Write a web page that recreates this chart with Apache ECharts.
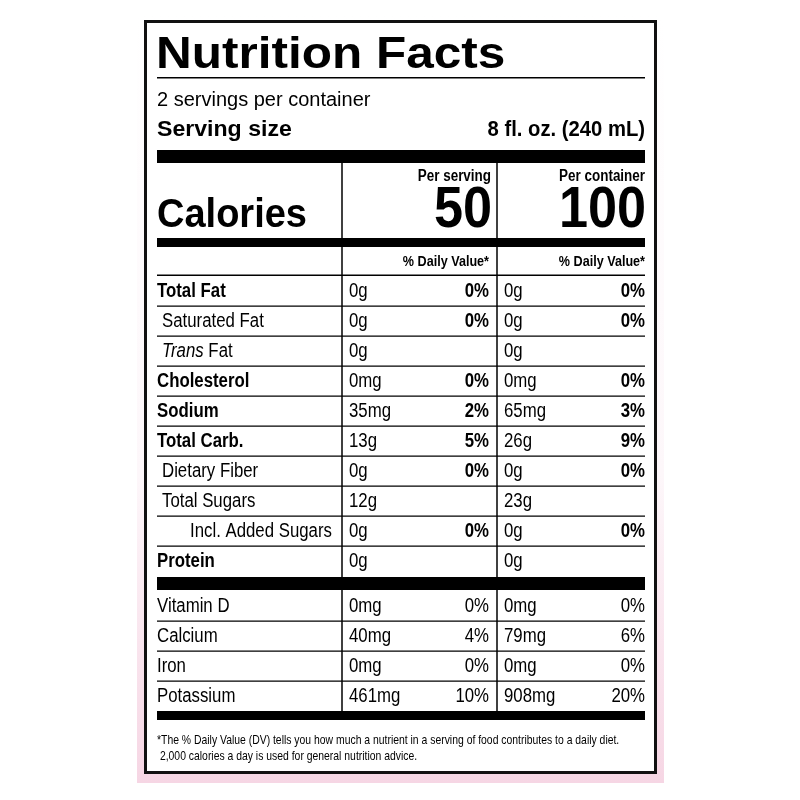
<!DOCTYPE html>
<html>
<head>
<meta charset="utf-8">
<script src="https://cdn.jsdelivr.net/npm/echarts@6/dist/echarts.min.js"></script>
<style>html,body{margin:0;padding:0;background:#fff}#main{width:800px;height:800px}</style>
</head>
<body>
<div id="main"></div>
<script>
// 标签数据
var servingsText = '2 servings per container';
var servingSize = '8 fl. oz. (240 mL)';
var caloriesServing = '50';
var caloriesContainer = '100';
var nutrients = ['Total Fat', 'Saturated Fat', 'Trans Fat', 'Cholesterol', 'Sodium', 'Total Carb.', 'Dietary Fiber', 'Total Sugars', 'Incl. Added Sugars', 'Protein'];
var servingAmt = ['0g', '0g', '0g', '0mg', '35mg', '13g', '0g', '12g', '0g', '0g'];
var servingDV = ['0%', '0%', '', '0%', '2%', '5%', '0%', '', '0%', ''];
var containerAmt = ['0g', '0g', '0g', '0mg', '65mg', '26g', '0g', '23g', '0g', '0g'];
var containerDV = ['0%', '0%', '', '0%', '3%', '9%', '0%', '', '0%', ''];
var vitamins = ['Vitamin D', 'Calcium', 'Iron', 'Potassium'];
var vitServingAmt = ['0mg', '40mg', '0mg', '461mg'];
var vitServingDV = ['0%', '4%', '0%', '10%'];
var vitContainerAmt = ['0mg', '79mg', '0mg', '908mg'];
var vitContainerDV = ['0%', '6%', '0%', '20%'];
var footnote = ['*The % Daily Value (DV) tells you how much a nutrient in a serving of food contributes to a daily diet.',
                ' 2,000 calories a day is used for general nutrition advice.'];

// 缩进样式 (0=粗体, 1=缩进, 2=双缩进)
var indentLevel = [0, 1, 1, 0, 0, 0, 1, 1, 2, 0];

var FONT = '"Liberation Sans", Arial, sans-serif';
var L = 157, R = 645, C1 = 342, C2 = 497;
var els = [];

function txt(x, y, s, size, opt) {
    opt = opt || {};
    var el = {
        type: 'text', x: x, y: y, silent: true,
        scaleX: opt.sx || 0.84,
        style: {
            text: s, fontSize: size, fill: '#000',
            fontFamily: FONT,
            fontWeight: opt.bold ? 'bold' : 'normal',
            fontStyle: opt.italic ? 'italic' : 'normal',
            align: opt.align || 'left', verticalAlign: 'middle'
        }
    };
    if (opt.rich) el.style.rich = opt.rich;
    els.push(el);
}
function rect(x, y, w, h) {
    els.push({ type: 'rect', silent: true, shape: { x: x, y: y, width: w, height: h }, style: { fill: '#000' } });
}

//背景及边框
els.push({
    type: 'rect', silent: true, shape: { x: 137, y: 14, width: 527, height: 769 },
    style: { fill: new echarts.graphic.LinearGradient(0, 0, 0, 1, [
        { offset: 0, color: '#ffffff' }, { offset: 0.6, color: '#fdf7fa' }, { offset: 1, color: '#f6d6e4' }]) }
});
els.push({
    type: 'rect', silent: true, shape: { x: 145.5, y: 21.5, width: 510, height: 751 },
    style: { fill: '#fff', stroke: '#111', lineWidth: 3 }
});

//标题
txt(156, 56, 'Nutrition Facts', 45, { bold: true, sx: 1.1 });
rect(L, 77, R - L, 1.5);
txt(157, 100, servingsText, 20, { sx: 1 });
txt(157, 130, 'Serving size', 22, { bold: true, sx: 1.05 });
txt(R, 130, servingSize, 22, { bold: true, align: 'right', sx: 0.92 });
rect(L, 150, R - L, 13);

//热量
txt(157, 216, 'Calories', 40, { bold: true, sx: 0.95 });
txt(491, 177, 'Per serving', 16, { bold: true, align: 'right' });
txt(645, 177, 'Per container', 16, { bold: true, align: 'right' });
txt(492, 211, caloriesServing, 58, { bold: true, align: 'right', sx: 0.9 });
txt(646, 211, caloriesContainer, 58, { bold: true, align: 'right', sx: 0.9 });
rect(L, 238, R - L, 9);
txt(489, 262, '% Daily Value*', 15, { bold: true, align: 'right' });
txt(645, 262, '% Daily Value*', 15, { bold: true, align: 'right' });
rect(L, 274.5, R - L, 1.5);

//营养成分
var rowH = 30, y0 = 291;
nutrients.forEach(function (n, i) {
    var y = y0 + i * rowH;
    var lv = indentLevel[i];
    if (n.indexOf('Trans') === 0) {
        txt(162, y, '{it|Trans}' + n.slice(5), 20, {
            rich: { it: { fontStyle: 'italic', fontSize: 20, fontFamily: FONT } }
        });
    } else {
        txt(lv === 0 ? 157 : (lv === 1 ? 162 : 190), y, n, 20, { bold: lv === 0 });
    }
    txt(349, y, servingAmt[i], 20);
    txt(489, y, servingDV[i], 20, { bold: true, align: 'right' });
    txt(504, y, containerAmt[i], 20);
    txt(645, y, containerDV[i], 20, { bold: true, align: 'right' });
    if (i < nutrients.length - 1) rect(L, y + 14.5, R - L, 1.2);
});
rect(L, 577, R - L, 13);

var vy0 = 606;
vitamins.forEach(function (n, i) {
    var y = vy0 + i * rowH;
    txt(157, y, n, 20);
    txt(349, y, vitServingAmt[i], 20);
    txt(489, y, vitServingDV[i], 20, { align: 'right' });
    txt(504, y, vitContainerAmt[i], 20);
    txt(645, y, vitContainerDV[i], 20, { align: 'right' });
    if (i < vitamins.length - 1) rect(L, y + 14.5, R - L, 1.2);
});
rect(L, 711, R - L, 9);

//竖线
rect(C1 - 0.75, 163, 1.5, 548);
rect(C2 - 0.75, 163, 1.5, 548);

//脚注
txt(157, 740, footnote[0], 13, { sx: 0.8 });
txt(157, 756, footnote[1], 13, { sx: 0.8 });

var myChart = echarts.init(document.getElementById('main'));
myChart.setOption({ backgroundColor: '#fff', animation: false, graphic: { elements: els } });
</script>
</body>
</html>
